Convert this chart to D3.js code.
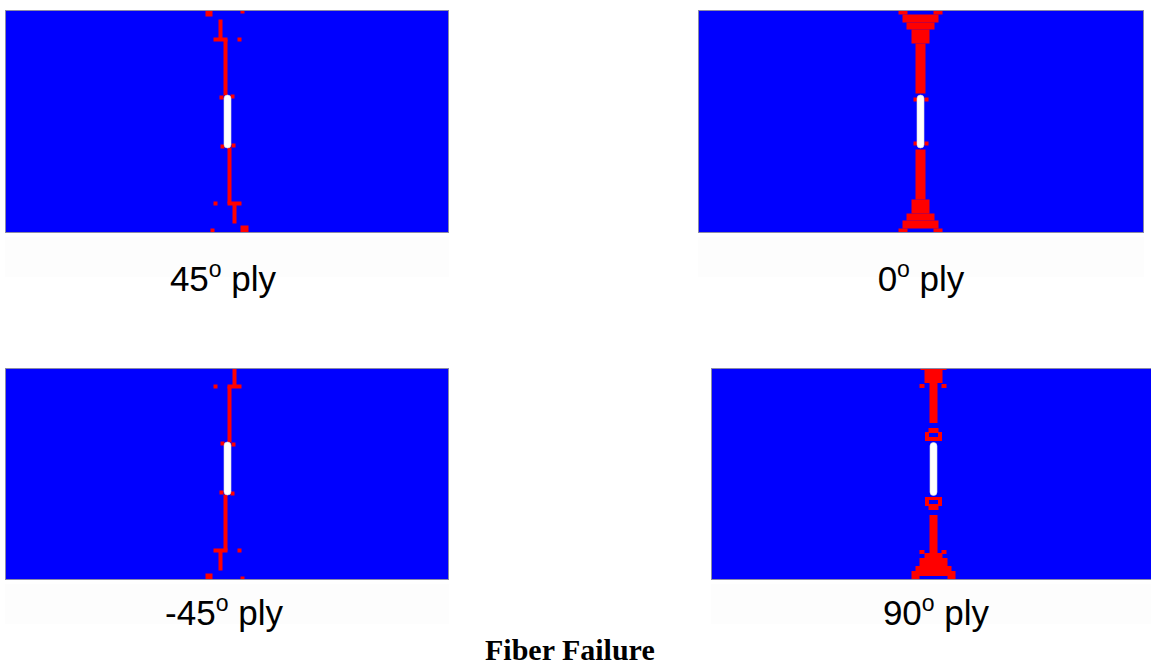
<!DOCTYPE html>
<html>
<head>
<meta charset="utf-8">
<script src="https://cdn.jsdelivr.net/npm/d3@7"></script>
<style>
  body { margin: 0; background: #fff; }
  svg { display: block; }
</style>
</head>
<body>
<div id="chart"></div>
<script>

// ply names and caption
var plyAngles = ["45", "0", "-45", "90"];
var caption = "Fiber Failure";

// crack size (specimen units, centred on 0,0)
var crackHalfLength = 26.5;
var crackHalfWidth = 3.5;

// failed elements per ply: [x0, x1, y0, y1, failed?]
var failed45 = [
    [-22, -15, -112, -105, 1], [13, 17, -112, -108, 1], [-9, -5, -102, -83, 1],
    [-14, 0, -84, -80, 1], [10, 14, -84, -80, 1], [-4, 0, -82, -26, 1],
    [-8, -4, -26, -22, 1], [3, 7, -27, -23, 1],
    [0, 4, 26, 82, 1], [-7, -3, 23, 27, 1], [4, 8, 22, 26, 1],
    [0, 14, 80, 84, 1], [-14, -10, 80, 84, 1], [5, 9, 83, 102, 1],
    [13, 21, 104, 112, 1], [-17, -13, 107, 111, 1]
];
var failed0 = [
    [-22, -13, -112, -107, 1], [13, 22, -112, -107, 1], [-18, 18, -107, -99, 1],
    [-14, 14, -99, -92, 1], [-9, 9, -92, -78, 1], [-5, 5, -78, -28, 1],
    [-7, -3, -24, -20, 1], [4, 8, -24, -20, 1],
    [-5, 5, 28, 78, 1], [-7, -3, 20, 24, 1], [4, 8, 20, 24, 1],
    [-9, 9, 78, 92, 1], [-14, 14, 92, 99, 1], [-18, 18, 99, 107, 1],
    [-22, -13, 107, 112, 1], [13, 22, 107, 112, 1]
];
var failedNeg45 = [
    [-22, -15, 105, 112, 1], [13, 17, 108, 112, 1], [-9, -5, 83, 102, 1],
    [-14, 0, 80, 84, 1], [10, 14, 80, 84, 1], [-4, 0, 26, 82, 1],
    [-8, -4, 22, 26, 1], [3, 7, 23, 27, 1],
    [0, 4, -82, -26, 1], [-7, -3, -27, -23, 1], [4, 8, -26, -22, 1],
    [0, 14, -84, -80, 1], [-14, -10, -84, -80, 1], [5, 9, -102, -83, 1],
    [13, 21, -112, -104, 1], [-17, -13, -111, -107, 1]
];
var failed90 = [
    [-22, 22, -112, -102, 1], [-14, 14, -112, -107, 0], [-13, 13, -102, -99, 1],
    [-9, 9, -99, -86, 1],
    [-14, -9, -85, -81, 1], [8, 13, -85, -81, 1], [-4, 4, -86, -46, 1],
    [-5, 5, -41, -37, 1], [-8.5, 8.5, -37, -28, 1], [-4.5, 4.5, -36, -32, 0],
    [-8.5, 8.5, 28, 37, 1], [-4.5, 4.5, 31, 35, 0], [-5, 5, 37, 41, 1],
    [-4, 4, 46, 86, 1], [-14, -9, 81, 85, 1], [8, 13, 81, 85, 1],
    [-9, 9, 84, 89, 1], [-14, 14, 89, 97, 1], [-18, 18, 97, 102, 1],
    [-22, 22, 102, 112, 1], [-14, 14, 107, 112, 0]
];

var plyData = [failed45, failed0, failedNeg45, failed90];


PlyPanel = function(_svg, _box, _label, _data) {
    this.svg = _svg;
    this.box = _box;
    this.label = _label;
    this.data = _data;
    this.initVis();
}

PlyPanel.prototype.initVis = function() {
    var vis = this;
    var b = vis.box;

    // specimen is 444 x 224 units, crack in the middle
    vis.x = d3.scaleLinear().domain([-222, 222]).range([b.cx - 222, b.cx + 222]);
    vis.y = d3.scaleLinear().domain([-112, 112]).range([b.cy - 112, b.cy + 112]);

    vis.clipId = "clip" + b.id;
    vis.svg.append("clipPath").attr("id", vis.clipId)
        .append("rect")
        .attr("x", b.left).attr("y", b.top)
        .attr("width", b.right - b.left).attr("height", b.bottom - b.top);

    // faint ghost band under the picture
    vis.svg.append("rect")
        .attr("x", b.left).attr("y", b.bottom + 4)
        .attr("width", b.right - b.left).attr("height", 40)
        .attr("fill", "#fdfdfd");

    vis.g = vis.svg.append("g").attr("clip-path", "url(#" + vis.clipId + ")");

    vis.g.append("rect")
        .attr("x", b.left).attr("y", b.top)
        .attr("width", b.right - b.left).attr("height", b.bottom - b.top)
        .attr("fill", "#0000ff");

    vis.updateVis();

    vis.svg.append("rect")
        .attr("x", b.left + 0.5).attr("y", b.top + 0.5)
        .attr("width", b.right - b.left - 1).attr("height", b.bottom - b.top - 1)
        .attr("fill", "none")
        .attr("stroke", "#8a8aa8");

    var t = vis.svg.append("text")
        .attr("x", b.labelX).attr("y", b.labelY)
        .attr("text-anchor", "middle")
        .attr("font-family", "'Liberation Sans', Arial, sans-serif")
        .attr("font-size", 35)
        .attr("fill", "#000");
    t.append("tspan").text(vis.label);
    t.append("tspan").attr("font-size", 23).attr("dy", -14).text("o");
    t.append("tspan").attr("dy", 14).text(" ply");
}

PlyPanel.prototype.updateVis = function() {
    var vis = this;

    vis.g.selectAll("rect.elem")
        .data(vis.data)
        .enter()
        .append("rect")
        .attr("class", "elem")
        .attr("x", function(d) { return vis.x(d[0]); })
        .attr("y", function(d) { return vis.y(d[2]); })
        .attr("width", function(d) { return vis.x(d[1]) - vis.x(d[0]); })
        .attr("height", function(d) { return vis.y(d[3]) - vis.y(d[2]); })
        .attr("fill", function(d) { return d[4] ? "#ff0000" : "#0000ff"; });

    // the crack
    vis.g.append("rect")
        .attr("x", vis.x(-crackHalfWidth))
        .attr("y", vis.y(-crackHalfLength))
        .attr("width", vis.x(crackHalfWidth) - vis.x(-crackHalfWidth))
        .attr("height", vis.y(crackHalfLength) - vis.y(-crackHalfLength))
        .attr("rx", crackHalfWidth)
        .attr("fill", "#ffffff")
        .attr("stroke", "#dcdcdc")
        .attr("stroke-width", 0.6);
}


var svg = d3.select("#chart").append("svg")
    .attr("width", 1151)
    .attr("height", 668);

var boxes = [
    {id: 0, left: 5,   right: 449,  top: 10,  bottom: 233, cx: 227.5, cy: 121.5, labelX: 223, labelY: 291},
    {id: 1, left: 698, right: 1144, top: 10,  bottom: 233, cx: 920.5, cy: 121.5, labelX: 921, labelY: 291},
    {id: 2, left: 5,   right: 449,  top: 368, bottom: 580, cx: 227.5, cy: 468.5, labelX: 224, labelY: 625},
    {id: 3, left: 711, right: 1156, top: 368, bottom: 580, cx: 933.5, cy: 469,   labelX: 936, labelY: 625}
];

var panels = [];
for (var i = 0; i < plyAngles.length; i++) {
    panels.push(new PlyPanel(svg, boxes[i], plyAngles[i], plyData[i]));
}

svg.append("text")
    .attr("x", 485).attr("y", 660)
    .attr("font-family", "'Liberation Serif', 'Times New Roman', serif")
    .attr("font-weight", "bold")
    .attr("font-size", 30)
    .attr("fill", "#000")
    .text(caption);

</script>
</body>
</html>
